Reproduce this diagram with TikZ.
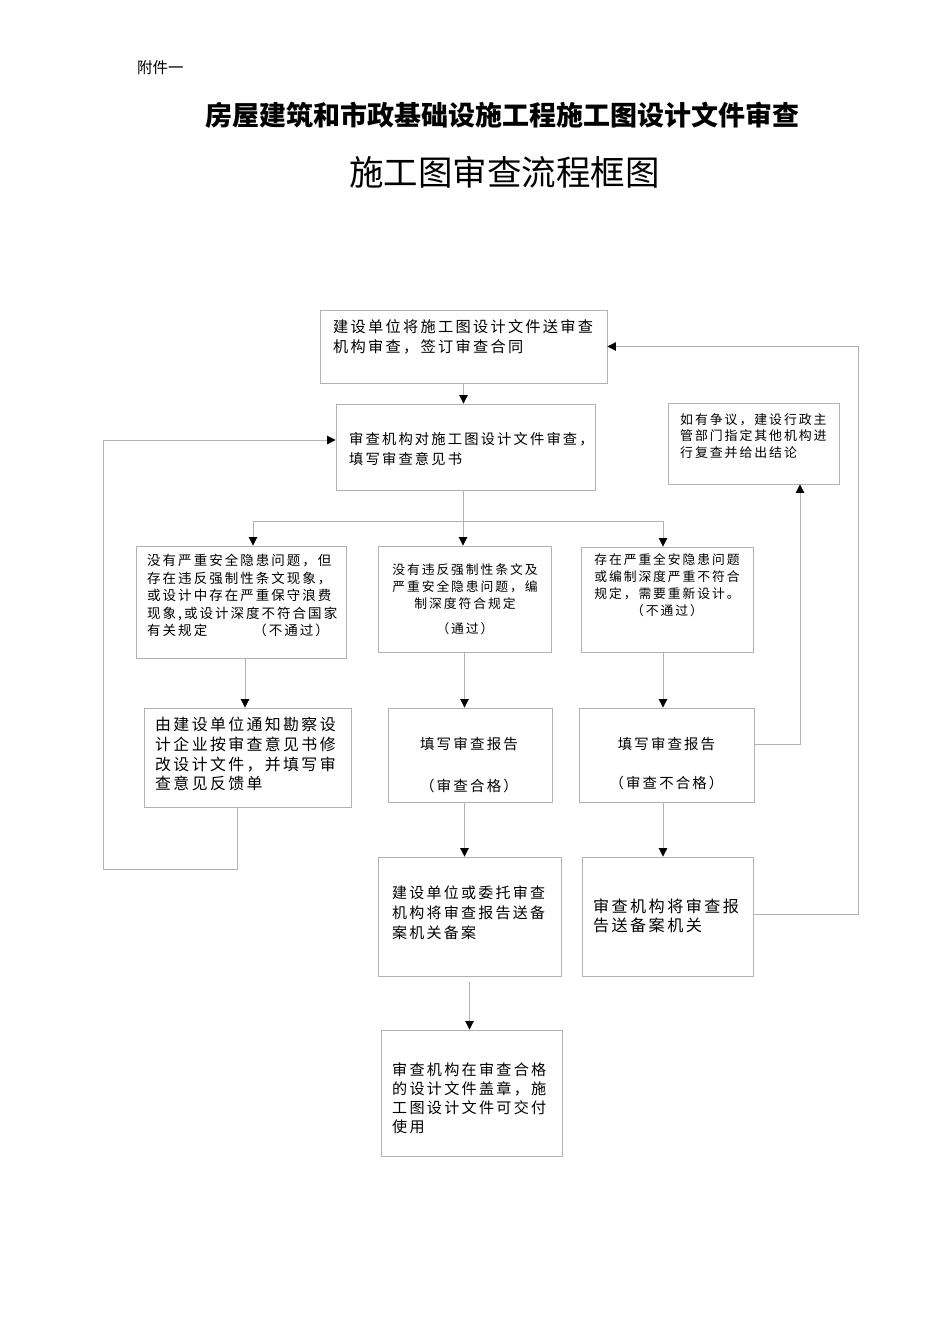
\documentclass[tikz,border=0pt]{standalone}
\usepackage{fontspec}
\setmainfont{Noto Sans CJK SC}
\newfontfamily\boxfont[LetterSpace=15]{Noto Sans CJK SC}
\usetikzlibrary{arrows.meta}
\colorlet{linegray}{gray!60}
\tikzset{
  box/.style={draw=linegray, line width=0.9pt, inner sep=0pt},
  txt/.style 2 args={inner sep=0pt, anchor=north west, align=left,
    font=\boxfont\fontsize{#1}{#2}\selectfont},
  link/.style={draw=linegray, line width=0.9pt},
  flow/.style={link, -{Triangle[color=black, length=8.5pt, width=8.5pt]}},
}
\begin{document}
\begin{tikzpicture}[x=1pt, y=-1pt]
  \path[fill=white] (0,0) rectangle (950,1344);
  \useasboundingbox (0,0) rectangle (950,1344);

  \node[anchor=west, inner sep=0pt, font=\fontsize{15.5}{18}\selectfont] (annex) at (137,68) {附件一};
  \node[inner sep=0pt, font=\bfseries\fontsize{27}{30}\selectfont] (title) at (502.5,115) {房屋建筑和市政基础设施工程施工图设计文件审查};
  \node[inner sep=0pt, font=\fontsize{34.5}{40}\selectfont] (subtitle) at (504.5,172) {施工图审查流程框图};

  \node[box, minimum width=287pt, minimum height=73pt] (apply) at (463.5,346.5) {};
  \node[box, minimum width=259pt, minimum height=86pt] (review) at (465.5,447) {};
  \node[box, minimum width=171pt, minimum height=81pt] (dispute) at (753.5,443.5) {};
  \node[box, minimum width=210pt, minimum height=112pt] (warn) at (241,602) {};
  \node[box, minimum width=173pt, minimum height=106pt] (pass) at (464.5,599) {};
  \node[box, minimum width=172pt, minimum height=105pt] (fail) at (667,599.5) {};
  \node[box, minimum width=207pt, minimum height=99pt] (revise) at (247.5,757.5) {};
  \node[box, minimum width=164pt, minimum height=94pt] (okreport) at (470,755) {};
  \node[box, minimum width=175pt, minimum height=94pt] (failreport) at (666.5,755) {};
  \node[box, minimum width=183pt, minimum height=119pt] (filing) at (469.5,916.5) {};
  \node[box, minimum width=171pt, minimum height=119pt] (failfiling) at (667.5,916.5) {};
  \node[box, minimum width=181pt, minimum height=126pt] (stamp) at (471.5,1093) {};

  \node[txt={15.2}{20}] (applytext) at (333,319) {建设单位将施工图设计文件送审查\\机构审查，签订审查合同};
  \node[txt={14.3}{20}] (reviewtext) at (349,432.5) {审查机构对施工图设计文件审查，\\填写审查意见书};
  \node[txt={12.9}{16.5}] (disputetext) at (680,413) {如有争议，建设行政主\\管部门指定其他机构进\\行复查并给出结论};
  \node[txt={13.5}{17.5}] (warntext) at (147,554) {没有严重安全隐患问题，但\\存在违反强制性条文现象，\\或设计中存在严重保守浪费\\现象,或设计深度不符合国家\\有关规定\hspace{46pt}（不通过）};
  \node[txt={12.8}{17}, anchor=north, align=center] (passtext) at (465,563) {没有违反强制性条文及\\严重安全隐患问题，编\\制深度符合规定\\[8pt]（通过）};
  \node[txt={12.8}{17}, anchor=north, align=center] (failtext) at (667,553) {存在严重全安隐患问题\\或编制深度严重不符合\\规定，需要重新设计。\\（不通过）};
  \node[txt={15.9}{19.7}] (revisetext) at (155,717) {由建设单位通知勘察设\\计企业按审查意见书修\\改设计文件，并填写审\\查意见反馈单};
  \node[txt={14.5}{42}, anchor=north, align=center] (oktext) at (469,737.5) {填写审查报告\\（审查合格）};
  \node[txt={14.4}{39}, anchor=north, align=center] (failreporttext) at (666.5,737.5) {填写审查报告\\（审查不合格）};
  \node[txt={15}{20}] (filingtext) at (392,885.5) {建设单位或委托审查\\机构将审查报告送备\\案机关备案};
  \node[txt={15.1}{19}] (stamptext) at (392,1062.5) {审查机构在审查合格\\的设计文件盖章，施\\工图设计文件可交付\\使用};
  \node[txt={16.1}{18.5}] (failfilingtext) at (593,899) {审查机构将审查报\\告送备案机关};

  \coordinate (split) at (463,521);
  \coordinate (loopL) at (103,869);
  \coordinate (loopR) at (858,346.5);

  \draw[flow] (apply.south) -- (apply.south |- review.north);
  \draw[link] (review.south -| split) -- (split);
  \draw[flow] (split) -| ([xshift=12pt]warn.north);
  \draw[flow] (split) -- (split |- pass.north);
  \draw[flow] (split) -| ([xshift=-4pt]fail.north);
  \draw[flow] ([xshift=4pt]warn.south) -- ([xshift=4pt]warn.south |- revise.north);
  \draw[flow] (pass.south) -- (pass.south |- okreport.north);
  \draw[flow] ([xshift=-4pt]fail.south) -- ([xshift=-4pt]fail.south |- failreport.north);
  \draw[flow] (pass.south |- okreport.south) -- (pass.south |- filing.north);
  \draw[flow] ([xshift=-3.5pt]failreport.south) -- ([xshift=-3.5pt]failreport.south |- failfiling.north);
  \draw[flow] ([yshift=-6pt]filing.south) -- (filing.south |- stamp.north);
  \draw[flow] ([xshift=-10.5pt]revise.south) |- (loopL) |- ([yshift=7pt]review.west);
  \draw[flow] ([yshift=11pt]failreport.east) -| ([xshift=46.5pt]dispute.south);
  \draw[flow] ([yshift=2.5pt]failfiling.east) -| (loopR) -- (apply.east);
\end{tikzpicture}
\end{document}
